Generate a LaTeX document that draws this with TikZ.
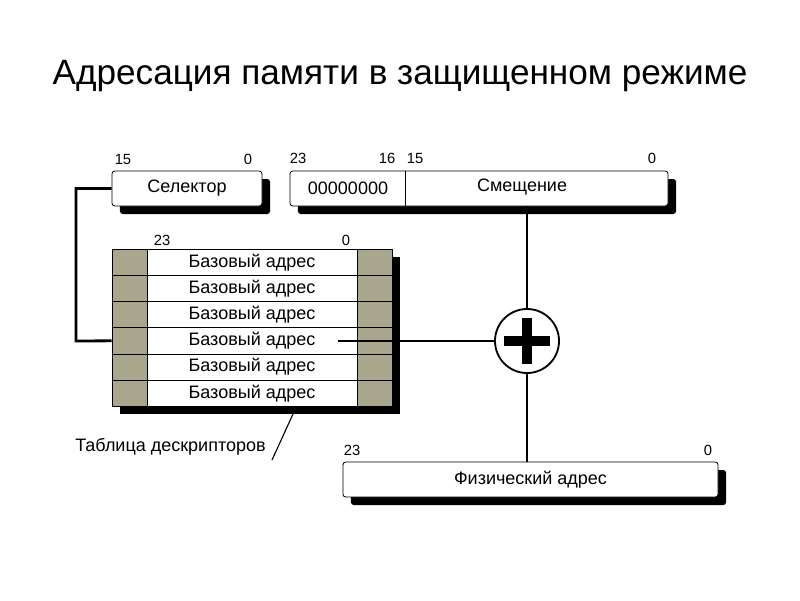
\documentclass[tikz,border=0pt]{standalone}
\usepackage{fontspec}
\setmainfont{Liberation Sans}
\usetikzlibrary{shadows, calc}
\definecolor{cellGray}{HTML}{A9A68E}

\tikzset{
  boxfont/.style={font=\fontsize{12.8}{14}\selectfont},
  regbox/.style={rectangle, rounded corners=2pt, draw=black, line width=0.6pt,
    fill=white, minimum height=0.875cm, inner sep=0pt, boxfont,
    drop shadow={shadow xshift=0.2cm, shadow yshift=-0.2cm, fill=black, opacity=1}},
  cell/.style={rectangle, draw=black, line width=0.5pt, minimum height=0.655cm,
    inner sep=0pt, boxfont},
  bitnum/.style={font=\fontsize{10.5}{12}\selectfont, inner sep=0pt},
  wire/.style={line width=2pt}
}

\begin{document}
\begin{tikzpicture}[x=0.025cm, y=-0.025cm]
  \useasboundingbox (0,0) rectangle (800,600);

  \node[font=\fontsize{25}{28}\selectfont] (title) at (400,76)
    {Адресация памяти в защищенном режиме};

  % selector register
  \node[regbox, minimum width=3.75cm] (sel) at (187,188.5) {Селектор};
  \node[bitnum] (s15) at (123,159) {15};
  \node[bitnum] (s0) at (248,159) {0};

  % offset register
  \node[regbox, minimum width=9.45cm] (off) at (479,188.5) {};
  \node[boxfont] (zeros) at (348,188.5) {00000000};
  \node[boxfont] (smesh) at (522,187) {Смещение};
  \draw[line width=0.6pt] (405,171) -- (405,206);
  \node[bitnum] (o23) at (298,158) {23};
  \node[bitnum] (o16) at (387,158) {16};
  \node[bitnum] (o15) at (415,158) {15};
  \node[bitnum] (o0) at (652,158) {0};

  % descriptor table
  \fill[black] (120,257) rectangle (400,414);
  \foreach \i in {1,...,6} {
    \node[cell, fill=cellGray, minimum width=0.875cm] (l\i) at (129.5,236+26.2*\i) {};
    \node[cell, fill=white, minimum width=5.25cm] (d\i) at (252,236+26.2*\i) {Базовый адрес};
    \node[cell, fill=cellGray, minimum width=0.875cm] (r\i) at (374.5,236+26.2*\i) {};
  }
  \node[bitnum] (t23) at (162,240) {23};
  \node[bitnum] (t0) at (346,240) {0};
  \node[boxfont, anchor=west, inner sep=0pt] (tab) at (75,447) {Таблица дескрипторов};
  \coordinate (tabfoot) at (272,460);
  \draw[line width=0.8pt] (tabfoot) -- (293,414);

  % adder
  \node[circle, draw=black, line width=1.3pt, fill=white, minimum size=1.6cm] (sum) at (527,341) {};
  \draw[line width=7pt] ($(sum.center)+(-23,0)$) -- ($(sum.center)+(23,0)$);
  \draw[line width=7pt] ($(sum.center)+(0,-23)$) -- ($(sum.center)+(0,23)$);

  % physical address
  \node[regbox, minimum width=9.375cm] (phys) at (530.5,479.5) {Физический адрес};
  \node[bitnum] (p23) at (352,450) {23};
  \node[bitnum] (p0) at (708,450) {0};

  % connections
  \coordinate (base) at (338,341);
  \draw[wire] (sel.west) -| (76,341) -- (l4.west);
  \draw[wire] (base) -- (sum.west);
  \draw[line width=1.3pt] (sum.north |- off.south) -- (sum.north);
  \draw[line width=1.3pt] (sum.south) -- (sum.south |- phys.north);
\end{tikzpicture}
\end{document}
